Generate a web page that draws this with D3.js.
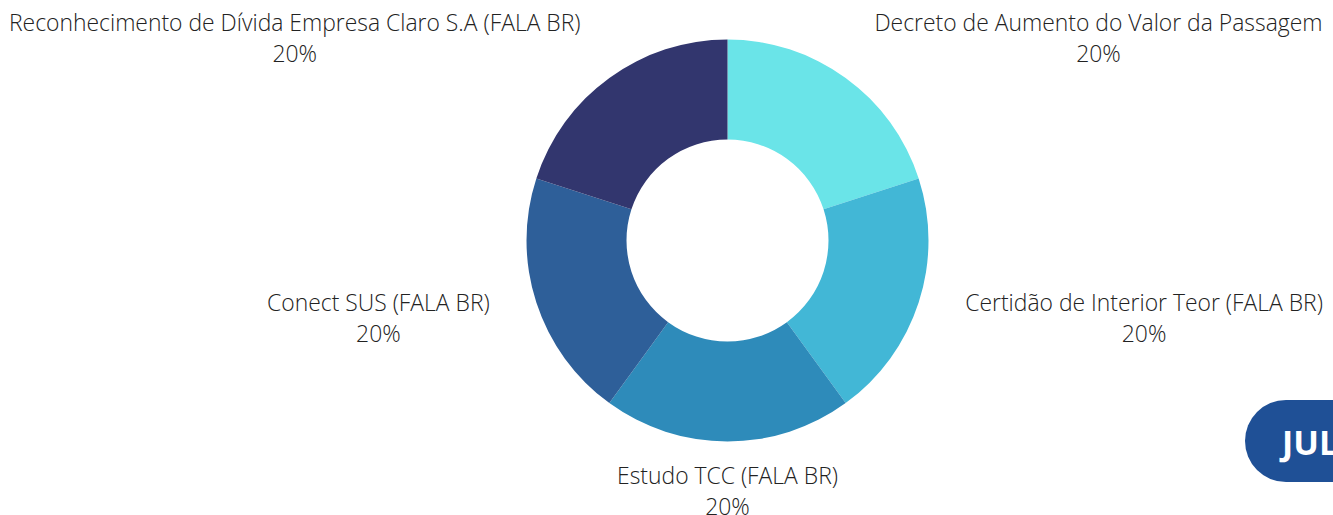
<!DOCTYPE html>
<html>
<head>
<meta charset="utf-8">
<script src="https://cdn.jsdelivr.net/npm/d3@7"></script>
<style>
html,body{margin:0;padding:0;background:#fff;overflow:hidden;}
svg{display:block;}
</style>
</head>
<body>
<svg id="chart" width="1333" height="515"></svg>
<script>
const categories = [
  "Decreto de Aumento do Valor da Passagem",
  "Certidão de Interior Teor (FALA BR)",
  "Estudo TCC (FALA BR)",
  "Conect SUS (FALA BR)",
  "Reconhecimento de Dívida Empresa Claro S.A (FALA BR)"
];
const values = [1, 1, 1, 1, 1];
const colors = ["#6AE4E8", "#42B7D6", "#2E8BBA", "#2E5F99", "#32366E"];
const buttonLabel = "JUL";

const W = 1333, H = 515;
const cx = 727.5, cy = 240.5, rOuter = 201, rInner = 101, rLabel = 250;
const svg = d3.select("#chart");
const total = d3.sum(values);
const data = categories.map((c, i) => ({name: c, value: values[i], color: colors[i]}));

const pie = d3.pie().value(d => d.value).sort(null);
const arc = d3.arc().innerRadius(rInner).outerRadius(rOuter);
const labelArc = d3.arc().innerRadius(rLabel).outerRadius(rLabel);
const fmt = d3.format(".0%");

const g = svg.append("g").attr("transform", `translate(${cx},${cy})`);
const arcs = pie(data);
g.selectAll("path").data(arcs).join("path")
  .attr("d", arc).attr("fill", d => d.data.color);

const lg = g.append("g").attr("font-family", "'Open Sans', sans-serif")
  .attr("font-weight", 300).attr("font-size", 22.9).attr("fill", "#222");
arcs.forEach(a => {
  const [x, y] = labelArc.centroid(a);
  const mid = (a.startAngle + a.endAngle) / 2;
  const s = Math.sin(mid);
  const block = lg.append("g");
  const t1 = block.append("text").attr("y", -7).attr("text-anchor", "middle").text(a.data.name);
  const t2 = block.append("text").attr("y", 24).attr("text-anchor", "middle").text(fmt(a.data.value / total));
  const w = Math.max(t1.node().getComputedTextLength(), t2.node().getComputedTextLength());
  let bx = x;
  if (s > 0.01) bx = x + w / 2;
  else if (s < -0.01) bx = x - w / 2;
  block.attr("transform", `translate(${bx},${y})`);
});

// month button
const bx0 = 1245, by0 = 400, bh = 82;
svg.append("rect").attr("x", bx0).attr("y", by0).attr("width", 200).attr("height", bh)
  .attr("rx", bh / 2).attr("fill", "#1F5096");
svg.append("text").attr("x", 1282).attr("y", 455)
  .attr("font-family", "'Open Sans', sans-serif").attr("font-weight", 700)
  .attr("font-size", 34).attr("fill", "#fff").text(buttonLabel);
</script>
</body>
</html>
